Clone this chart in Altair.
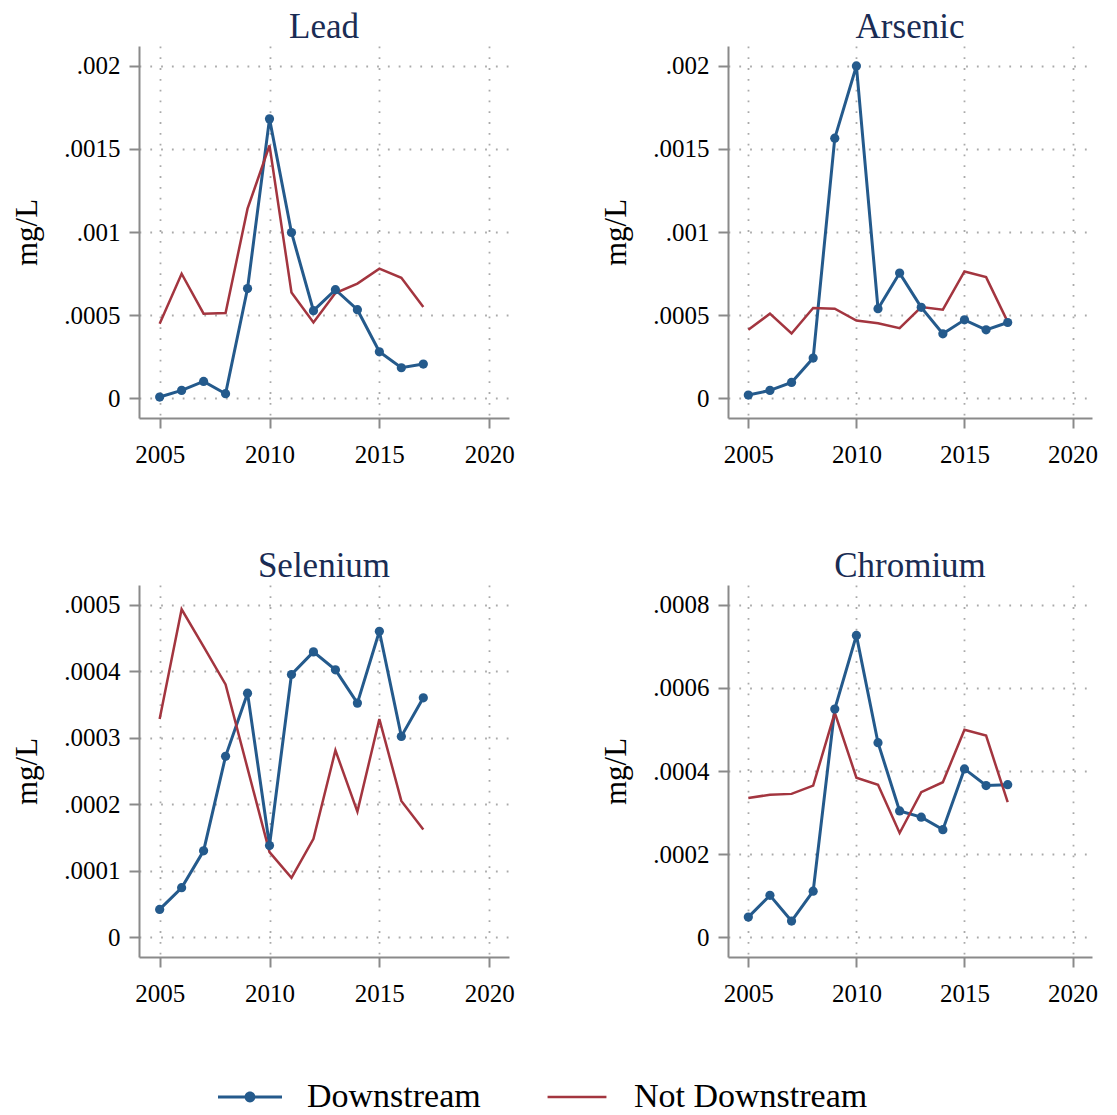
import altair as alt
import pandas as pd

years = list(range(2005, 2018))

lead_down = [0.000008, 0.000048, 0.000102, 0.000028, 0.00066, 0.00168, 0.000997,
             0.000527, 0.000653, 0.000533, 0.00028, 0.000184, 0.000206]
lead_not = [0.000448, 0.000749, 0.000509, 0.000513, 0.00114, 0.00152, 0.000637,
            0.000456, 0.000633, 0.00069, 0.00078, 0.000725, 0.000549]

arsenic_down = [0.00002, 0.000048, 0.000096, 0.000242, 0.001564, 0.001998, 0.000539,
                0.000753, 0.000547, 0.000388, 0.000472, 0.000412, 0.000456]
arsenic_not = [0.000412, 0.000509, 0.00039, 0.000543, 0.000539, 0.000468, 0.000452,
               0.000422, 0.000549, 0.000533, 0.000763, 0.000729, 0.00046]

selenium_down = [0.000042, 0.0000746, 0.00013, 0.000272, 0.000367, 0.000138, 0.000395,
                 0.000429, 0.000402, 0.000352, 0.00046, 0.000302, 0.00036]
selenium_not = [0.000328, 0.000493, 0.000437, 0.00038, 0.000254, 0.000128, 0.0000896,
                0.000148, 0.000281, 0.000189, 0.000328, 0.000205, 0.000162]

chromium_down = [0.0000488, 0.000101, 0.0000392, 0.000111, 0.000549, 0.000726, 0.000468,
                 0.000304, 0.000289, 0.000259, 0.000405, 0.000365, 0.000367]
chromium_not = [0.000335, 0.000343, 0.000345, 0.000365, 0.00054, 0.000384, 0.000367,
                0.000251, 0.000349, 0.000373, 0.000499, 0.000485, 0.000325]

series_names = ["Downstream", "Not Downstream"]
x_ticks = [2005, 2010, 2015, 2020]

BLUE = "#245a8c"
RED = "#a3353f"
FONT = "Liberation Serif"

color_scale = alt.Scale(domain=series_names, range=[BLUE, RED])
width_scale = alt.Scale(domain=series_names, range=[3, 2.5])

# key symbols: a line with a dot, and a plain line
PATH_DOWN = ("M-1,-0.05L1,-0.05L1,0.05L-1,0.05Z "
             "M0.17,0A0.17,0.17 0 1,1 -0.17,0A0.17,0.17 0 1,1 0.17,0Z")
PATH_NOT = "M-0.92,-0.042L0.92,-0.042L0.92,0.042L-0.92,0.042Z"
shape_scale = alt.Scale(domain=series_names, range=[PATH_DOWN, PATH_NOT])


def panel(name, down, notdown, ymax, step, width):
    df = pd.DataFrame({
        "year": years * 2,
        "value": down + notdown,
        "series": [series_names[0]] * len(years) + [series_names[1]] * len(years),
    })
    pad = 0.059 * ymax
    yvals = [round(i * step, 6) for i in range(int(round(ymax / step)) + 1)]
    x = alt.X(
        "year:Q",
        scale=alt.Scale(domain=[2004.06, 2020.9], nice=False, zero=False),
        axis=alt.Axis(values=x_ticks, format="d", title=None),
    )
    y = alt.Y(
        "value:Q",
        scale=alt.Scale(domain=[-pad, ymax + pad], nice=False, zero=False),
        axis=alt.Axis(
            values=yvals,
            title="mg/L",
            labelExpr="datum.value == 0 ? '0' : replace(format(datum.value, '.4~f'), '0.', '.')",
        ),
    )
    base = alt.Chart(df)
    line = base.mark_line().encode(
        x=x,
        y=y,
        stroke=alt.Stroke("series:N", scale=color_scale, legend=None),
        strokeWidth=alt.StrokeWidth("series:N", scale=width_scale, legend=None),
    )
    pts = base.transform_filter(alt.datum.series == series_names[0]).mark_point(
        filled=True, size=85, opacity=1, color=BLUE
    ).encode(x=x, y=y)
    return alt.layer(line, pts).properties(
        width=width,
        height=372,
        title=alt.TitleParams(name, font=FONT, fontSize=35, fontWeight="normal",
                              color="#1a2c54", offset=1),
    )


top = alt.hconcat(
    panel("Lead", lead_down, lead_not, 0.002, 0.0005, 370),
    panel("Arsenic", arsenic_down, arsenic_not, 0.002, 0.0005, 364),
    spacing=85,
)
bottom = alt.hconcat(
    panel("Selenium", selenium_down, selenium_not, 0.0005, 0.0001, 370),
    panel("Chromium", chromium_down, chromium_not, 0.0008, 0.0002, 364),
    spacing=85,
)

# key row below the panels
key_df = pd.DataFrame({"series": series_names})
key_x = alt.X("series:N", axis=None,
              scale=alt.Scale(type="point", domain=series_names, range=[111, 438], padding=0))
key_base = alt.Chart(key_df)
key_sym = key_base.mark_point(filled=True, opacity=1, size=4096, strokeWidth=0).encode(
    x=key_x,
    color=alt.Color("series:N", scale=color_scale, legend=None),
    shape=alt.Shape("series:N", scale=shape_scale, legend=None),
)
key_txt = key_base.mark_text(
    align="left", baseline="middle", dx=57, font=FONT, fontSize=34, color="#000000"
).encode(x=key_x, text=alt.Text("series:N"))
key = alt.layer(key_sym, key_txt).properties(width=760, height=34)

grid = alt.vconcat(top, bottom, spacing=82)

chart = alt.vconcat(grid, key, spacing=74).properties(
    padding={"left": 3, "top": 2, "right": 4, "bottom": 0}
).configure_view(
    stroke=None
).configure_axis(
    labelFont=FONT,
    labelFontSize=25,
    labelColor="#000000",
    titleFont=FONT,
    titleFontSize=31,
    titleFontWeight="normal",
    titleColor="#000000",
    titlePadding=20,
    domainColor="#8a8a8a",
    domainWidth=2,
    tickColor="#8a8a8a",
    tickWidth=2,
    tickSize=10,
    grid=True,
    gridColor="#aaaaaa",
    gridWidth=1.8,
    gridDash=[1.8, 9],
).configure_axisX(
    labelPadding=14,
).configure_axisY(
    labelPadding=9,
)

chart.save("out.html", embed_options={"renderer": "svg", "actions": False})
